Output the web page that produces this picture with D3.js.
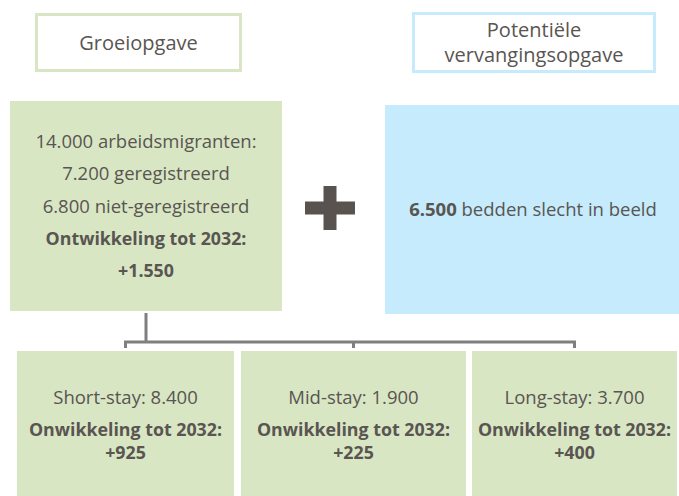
<!DOCTYPE html>
<html>
<head>
<meta charset="utf-8">
<script src="https://cdn.jsdelivr.net/npm/d3@7"></script>
<style>
    body { margin: 0; background: #fff; }
    svg { display: block; font-family: "Open Sans", sans-serif; }
</style>
</head>
<body>
<div id="chart"></div>
<script>
// values
const headerLabels = ["Groeiopgave", "Potentiële vervangingsopgave"];
const totalMigrants = 14000;
const registered = 7200;
const unregistered = 6800;
const growthTotal = 1550;
const growthYear = 2032;
const replacementBeds = 6500;
const stayTypes = ["Short-stay", "Mid-stay", "Long-stay"];
const stayCounts = [8400, 1900, 3700];
const stayGrowth = [925, 225, 400];

const nl = d3.formatLocale({ decimal: ",", thousands: ".", grouping: [3], currency: ["€", ""] });
const fmt = nl.format(",");

const width = 679, height = 496;
const green = "#d8e6c4", blue = "#c5ebfc", textColor = "#595551";
const boldSize = "17.8px";

// layout of the boxes
const headerBoxes = [
    { x: 36.5, y: 14.5, w: 204, h: 56, stroke: green },
    { x: 413.5, y: 13.5, w: 241, h: 58, stroke: blue }
];
const mainBox = { x: 10, y: 101, w: 272, h: 210 };
const bedsBox = { x: 385, y: 105, w: 294, h: 209 };
const stayEdges = [[17, 234], [241, 466], [472, 677]];
const stayTop = 351;

const svg = d3.select("#chart")
    .append("svg")
    .attr("width", width)
    .attr("height", height);

// header boxes
let headers = svg.selectAll(".header")
    .data(headerLabels)
    .enter()
    .append("g")
    .attr("class", "header");

headers.append("rect")
    .attr("x", (d, i) => headerBoxes[i].x)
    .attr("y", (d, i) => headerBoxes[i].y)
    .attr("width", (d, i) => headerBoxes[i].w)
    .attr("height", (d, i) => headerBoxes[i].h)
    .style("fill", "#fff")
    .style("stroke", (d, i) => headerBoxes[i].stroke)
    .style("stroke-width", 3);

headers.each(function(d, i) {
    let b = headerBoxes[i];
    let words = i === 0 ? [d] : d.split(" ");
    let lineH = 25;
    let firstBase = b.y + b.h / 2 + 7 - (words.length - 1) * lineH / 2;
    d3.select(this).selectAll("text")
        .data(words)
        .enter()
        .append("text")
        .attr("x", b.x + b.w / 2)
        .attr("y", (w, j) => firstBase + j * lineH)
        .attr("text-anchor", "middle")
        .style("font-size", "20px")
        .style("fill", textColor)
        .text(w => w);
});

// main green box
svg.append("rect")
    .attr("x", mainBox.x).attr("y", mainBox.y)
    .attr("width", mainBox.w).attr("height", mainBox.h)
    .style("fill", green);

let mainLines = [
    { t: fmt(totalMigrants) + " arbeidsmigranten:", bold: false },
    { t: fmt(registered) + " geregistreerd", bold: false },
    { t: fmt(unregistered) + " niet-geregistreerd", bold: false },
    { t: "Ontwikkeling tot " + growthYear + ":", bold: true },
    { t: "+" + fmt(growthTotal), bold: true }
];

svg.selectAll(".main-line")
    .data(mainLines)
    .enter()
    .append("text")
    .attr("class", "main-line")
    .attr("x", mainBox.x + mainBox.w / 2)
    .attr("y", (d, i) => 148 + i * 32.3)
    .attr("text-anchor", "middle")
    .style("font-size", d => d.bold ? boldSize : "18.5px")
    .style("font-weight", d => d.bold ? "bold" : "normal")
    .style("fill", textColor)
    .text(d => d.t);

// plus sign
let plus = svg.append("g").attr("transform", "translate(330, 208)");
plus.append("rect").attr("x", -25).attr("y", -6.5).attr("width", 50).attr("height", 13).style("fill", "#595350");
plus.append("rect").attr("x", -6.5).attr("y", -22).attr("width", 13).attr("height", 44).style("fill", "#595350");

// blue box
svg.append("rect")
    .attr("x", bedsBox.x).attr("y", bedsBox.y)
    .attr("width", bedsBox.w).attr("height", bedsBox.h)
    .style("fill", blue);

let bedsText = svg.append("text")
    .attr("x", bedsBox.x + bedsBox.w / 2 + 1)
    .attr("y", 216)
    .attr("text-anchor", "middle")
    .style("font-size", "18.5px")
    .style("fill", textColor);
bedsText.append("tspan").style("font-weight", "bold").text(fmt(replacementBeds));
bedsText.append("tspan").text(" bedden slecht in beeld");

// connector
let centers = stayEdges.map(e => (e[0] + e[1]) / 2);
let conn = svg.append("g")
    .style("stroke", "#7f7f7f")
    .style("stroke-width", 3)
    .style("fill", "none");
conn.append("line")
    .attr("x1", mainBox.x + mainBox.w / 2).attr("x2", mainBox.x + mainBox.w / 2)
    .attr("y1", 313).attr("y2", 342);
conn.append("line")
    .attr("x1", centers[0] - 1.5).attr("x2", centers[2] + 1.5)
    .attr("y1", 342).attr("y2", 342);
conn.selectAll(".tick")
    .data(centers)
    .enter()
    .append("line")
    .attr("x1", d => d).attr("x2", d => d)
    .attr("y1", 342).attr("y2", 348);

// stay boxes
let stays = svg.selectAll(".stay")
    .data(stayTypes)
    .enter()
    .append("g")
    .attr("class", "stay");

stays.append("rect")
    .attr("x", (d, i) => stayEdges[i][0])
    .attr("y", stayTop)
    .attr("width", (d, i) => stayEdges[i][1] - stayEdges[i][0])
    .attr("height", height - stayTop)
    .style("fill", green);

stays.each(function(d, i) {
    let cx = centers[i];
    let g = d3.select(this);
    g.append("text")
        .attr("x", cx).attr("y", 404)
        .attr("text-anchor", "middle")
        .style("font-size", "18.5px")
        .style("fill", textColor)
        .text(d + ": " + fmt(stayCounts[i]));
    g.append("text")
        .attr("x", cx).attr("y", 436)
        .attr("text-anchor", "middle")
        .style("font-size", boldSize)
        .style("font-weight", "bold")
        .style("fill", textColor)
        .text("Onwikkeling tot " + growthYear + ":");
    g.append("text")
        .attr("x", cx).attr("y", 459)
        .attr("text-anchor", "middle")
        .style("font-size", boldSize)
        .style("font-weight", "bold")
        .style("fill", textColor)
        .text("+" + fmt(stayGrowth[i]));
});
</script>
</body>
</html>
